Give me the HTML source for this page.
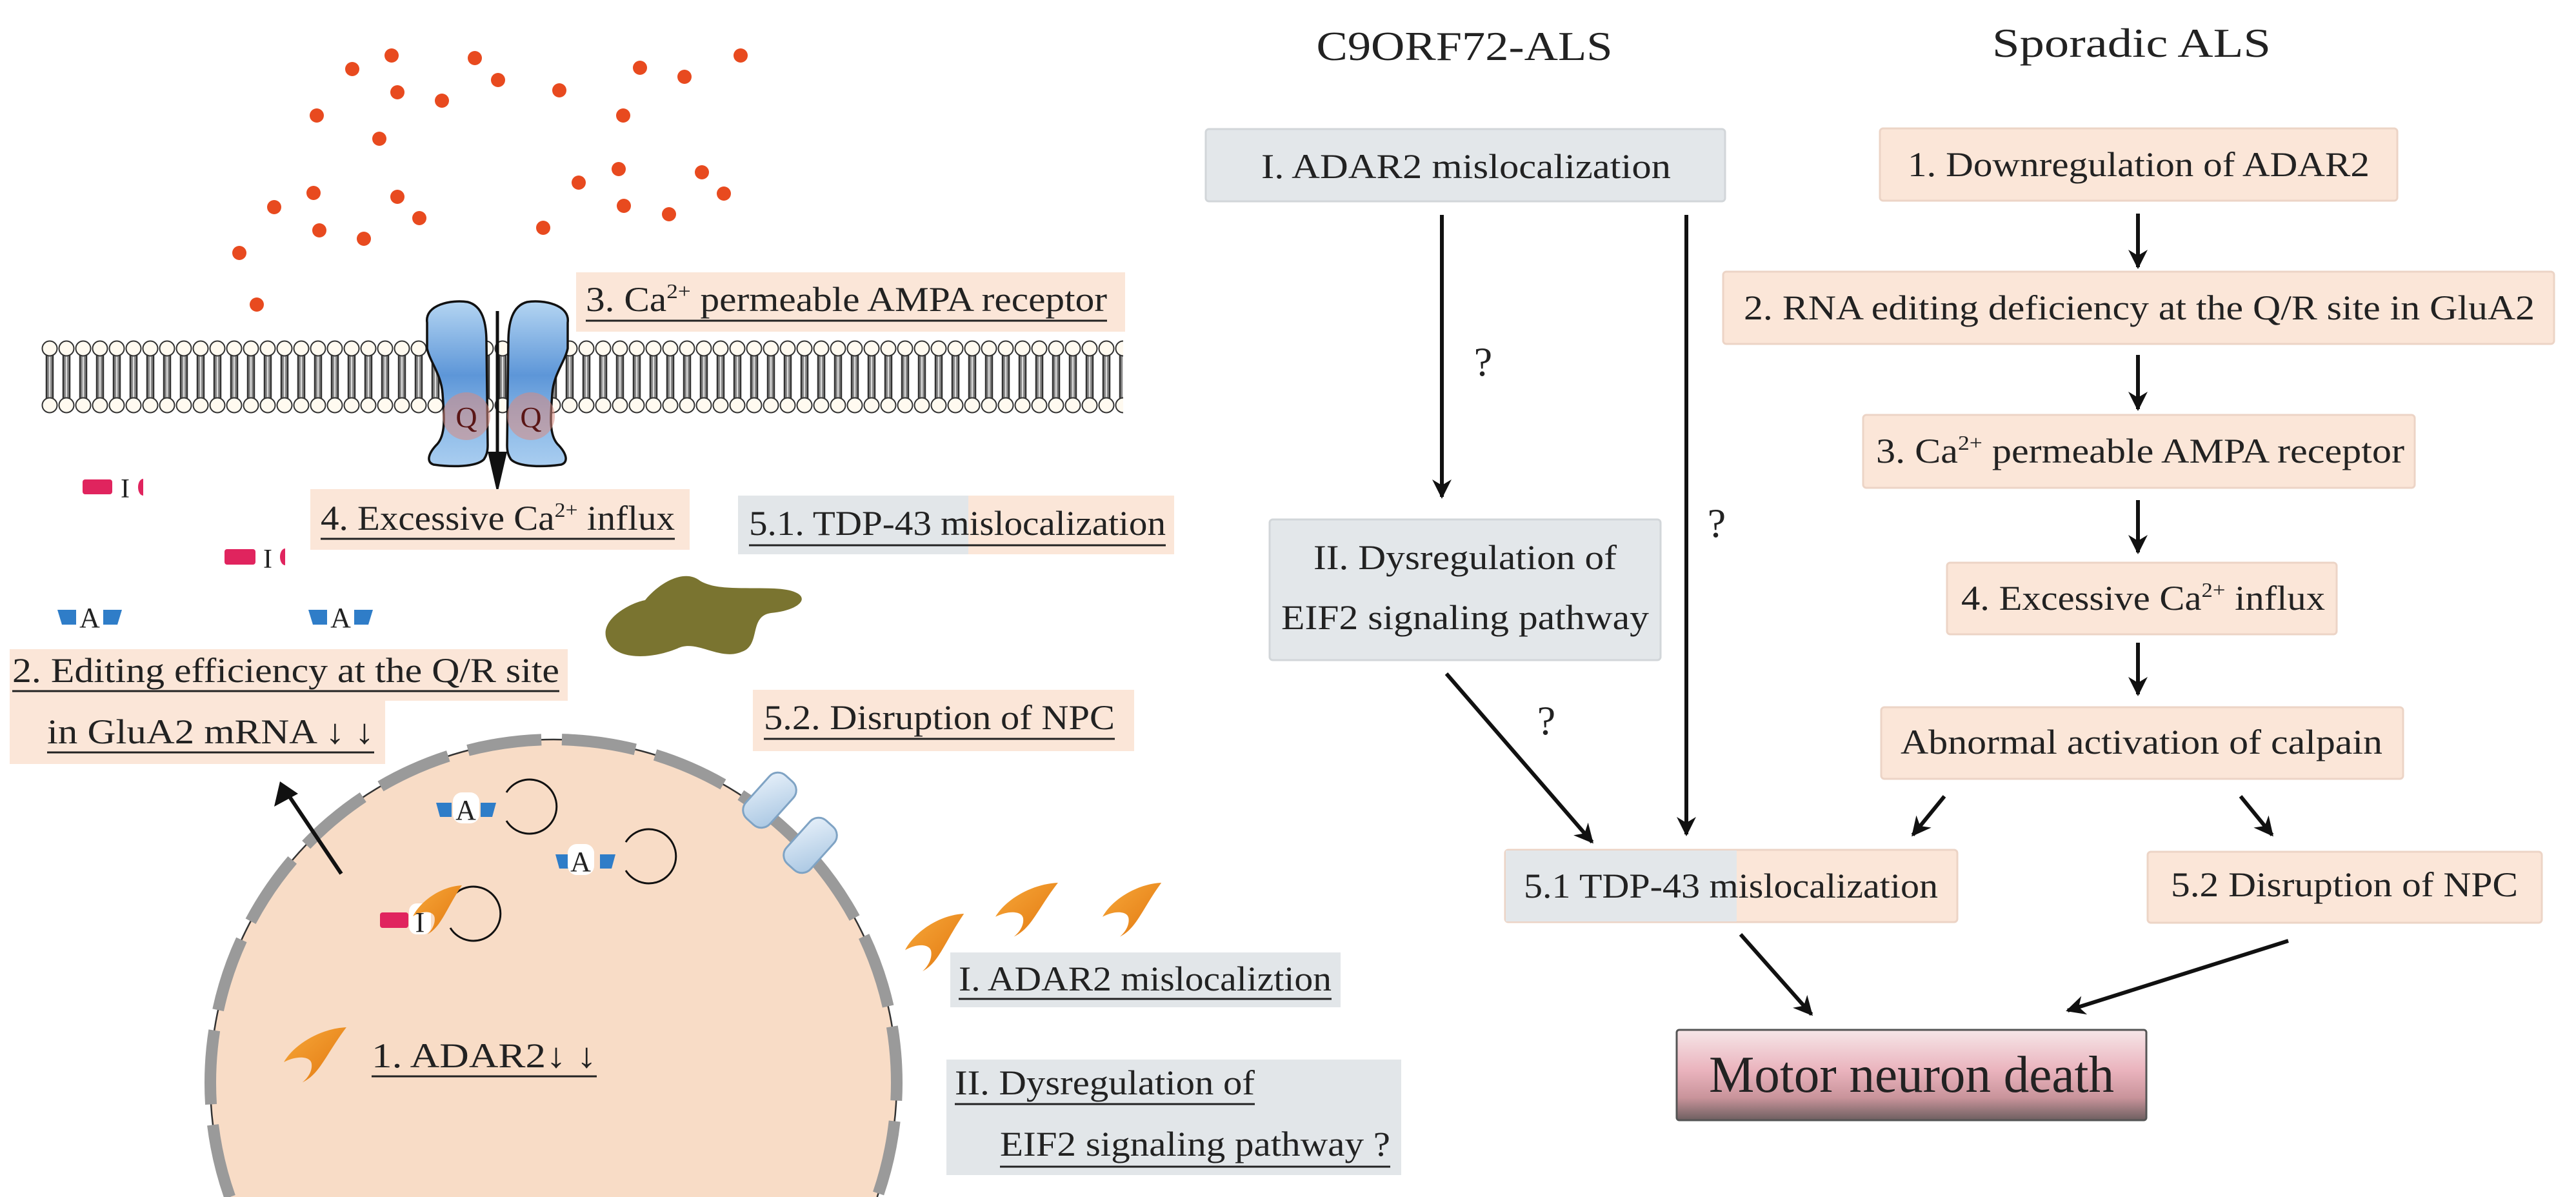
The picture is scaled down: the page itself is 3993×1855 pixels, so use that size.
<!DOCTYPE html>
<html><head><meta charset="utf-8"><style>
html,body{margin:0;padding:0;background:#fff;width:3993px;height:1855px;overflow:hidden;}
svg{display:block;overflow:hidden;}
text{font-family:"Liberation Serif",serif;fill:#222;}
</style></head><body>
<svg width="3993" height="1855" viewBox="0 0 3993 1855" xmlns="http://www.w3.org/2000/svg">
<defs>
<pattern id="mem" x="64" y="527" width="26" height="114" patternUnits="userSpaceOnUse">
  <rect x="7" y="22" width="12" height="70" fill="#8a8a8a"/>
  <line x1="8" y1="22" x2="8" y2="92" stroke="#333" stroke-width="2.5"/>
  <line x1="18" y1="22" x2="18" y2="92" stroke="#333" stroke-width="2.5"/>
  <line x1="13" y1="22" x2="13" y2="92" stroke="#ddd" stroke-width="2"/>
  <circle cx="13" cy="13" r="11.5" fill="#fffaf0" stroke="#333" stroke-width="2"/>
  <circle cx="13" cy="101" r="11.5" fill="#fffaf0" stroke="#333" stroke-width="2"/>
</pattern>
<linearGradient id="rec" x1="0" y1="0" x2="0" y2="1">
  <stop offset="0" stop-color="#b4d5f2"/><stop offset="0.45" stop-color="#5d96d8"/><stop offset="0.75" stop-color="#8dbbe8"/><stop offset="1" stop-color="#a9cdf0"/>
</linearGradient>
<linearGradient id="death" x1="0" y1="0" x2="0" y2="1">
  <stop offset="0" stop-color="#f6e6e8"/><stop offset="0.45" stop-color="#eab3bd"/><stop offset="0.75" stop-color="#c9949b"/><stop offset="1" stop-color="#6e5f60"/>
</linearGradient>
<linearGradient id="npc" x1="0" y1="0" x2="1" y2="1">
  <stop offset="0" stop-color="#e8f1fa"/><stop offset="1" stop-color="#a8c6e2"/>
</linearGradient>
<linearGradient id="orng" x1="0" y1="0" x2="1" y2="1">
  <stop offset="0" stop-color="#f7a83a"/><stop offset="1" stop-color="#e27810"/>
</linearGradient>
<marker id="ah" viewBox="0 0 10 10" refX="9" refY="5" markerWidth="5" markerHeight="5" orient="auto" markerUnits="strokeWidth">
  <path d="M0,0 L10,5 L0,10 L3,5 Z" fill="#111"/>
</marker>
<path id="cres" d="M95,0 C55,2 15,30 0,60 C20,48 40,50 42,62 C44,75 36,88 28,95 C55,80 62,50 95,0 Z"/>
</defs>

<g fill="#e84a1f">
<circle cx="546" cy="107" r="11"/><circle cx="607" cy="86" r="11"/><circle cx="736" cy="90" r="11"/>
<circle cx="772" cy="124" r="11"/><circle cx="616" cy="143" r="11"/><circle cx="685" cy="156" r="11"/>
<circle cx="491" cy="179" r="11"/><circle cx="588" cy="215" r="11"/><circle cx="867" cy="140" r="11"/>
<circle cx="966" cy="179" r="11"/><circle cx="992" cy="105" r="11"/><circle cx="1061" cy="119" r="11"/>
<circle cx="1148" cy="86" r="11"/><circle cx="959" cy="262" r="11"/><circle cx="897" cy="283" r="11"/>
<circle cx="1088" cy="267" r="11"/><circle cx="1122" cy="300" r="11"/><circle cx="486" cy="299" r="11"/>
<circle cx="425" cy="321" r="11"/><circle cx="616" cy="305" r="11"/><circle cx="650" cy="338" r="11"/>
<circle cx="495" cy="357" r="11"/><circle cx="564" cy="370" r="11"/><circle cx="371" cy="392" r="11"/>
<circle cx="842" cy="353" r="11"/><circle cx="967" cy="319" r="11"/><circle cx="1037" cy="332" r="11"/>
<circle cx="398" cy="472" r="11"/>
</g>

<rect x="64" y="527" width="1677" height="114" fill="url(#mem)"/>

<rect x="893" y="422" width="851" height="92" fill="#fbe6d8"/>
<text x="908" y="482" font-size="54" textLength="808" lengthAdjust="spacingAndGlyphs">3. Ca<tspan font-size="32" dy="-20">2+</tspan><tspan dy="20"> permeable AMPA receptor</tspan></text>
<line x1="908" y1="497" x2="1716" y2="497" stroke="#222" stroke-width="3"/>

<g stroke="#111" stroke-width="3.5" fill="url(#rec)">
<path d="M662,500 C658,472 700,464 725,468 C748,474 754,500 754,530 L756,690 C756,700 754,706 750,712 C738,724 700,724 672,720 C660,716 664,702 678,688 C692,672 688,640 686,610 C684,580 666,560 662,540 Z"/>
<path d="M880,500 C884,472 842,464 817,468 C794,474 788,500 788,530 L786,690 C786,700 788,706 792,712 C804,724 842,724 870,720 C882,716 878,702 864,688 C850,672 854,640 856,610 C858,580 876,560 880,540 Z"/>
</g>
<circle cx="723" cy="645" r="37" fill="#d88a80" fill-opacity="0.55"/>
<circle cx="823" cy="645" r="37" fill="#d88a80" fill-opacity="0.55"/>
<text x="723" y="662" font-size="46" text-anchor="middle" style="fill:#5a1616">Q</text>
<text x="823" y="662" font-size="46" text-anchor="middle" style="fill:#5a1616">Q</text>
<line x1="771" y1="482" x2="771" y2="710" stroke="#111" stroke-width="5"/>
<polygon points="756,700 786,700 771,765" fill="#111"/>

<rect x="481" y="758" width="588" height="94" fill="#fbe6d8"/>
<text x="497" y="821" font-size="54" textLength="549" lengthAdjust="spacingAndGlyphs">4. Excessive Ca<tspan font-size="32" dy="-20">2+</tspan><tspan dy="20"> influx</tspan></text>
<line x1="497" y1="835" x2="1046" y2="835" stroke="#222" stroke-width="3"/>

<rect x="1144" y="768" width="676" height="91" fill="#fbe6d8"/>
<rect x="1144" y="768" width="357" height="91" fill="#e2e6e9"/>
<text x="1161" y="829" font-size="54" textLength="646" lengthAdjust="spacingAndGlyphs">5.1. TDP-43 mislocalization</text>
<line x1="1161" y1="845" x2="1807" y2="845" stroke="#222" stroke-width="3"/>

<rect x="128" y="743" width="46" height="23" rx="4" fill="#e0245e"/>
<text x="194" y="771" font-size="42" text-anchor="middle">I</text>
<path d="M222,742 A8,13 0 0 0 222,768 Z" fill="#e0245e"/>
<rect x="348" y="851" width="48" height="24" rx="4" fill="#e0245e"/>
<text x="415" y="880" font-size="42" text-anchor="middle">I</text>
<path d="M442,850 A8,13 0 0 0 442,876 Z" fill="#e0245e"/>

<g fill="#2f7dc8">
<polygon points="89,945 118,945 118,968 96,968"/><polygon points="160,945 189,945 182,968 160,968"/>
<polygon points="478,945 507,945 507,968 485,968"/><polygon points="549,945 578,945 571,968 549,968"/>
</g>
<text x="139" y="972" font-size="44" text-anchor="middle">A</text>
<text x="528" y="972" font-size="44" text-anchor="middle">A</text>

<path d="M940,990 C930,960 975,935 1000,930 C1020,905 1060,880 1085,900 C1110,915 1150,910 1200,912 C1265,915 1250,945 1195,950 C1160,955 1180,1000 1150,1010 C1115,1025 1080,990 1050,1005 C1000,1025 950,1020 940,990 Z" fill="#7a7430"/>

<rect x="15" y="1006" width="865" height="80" fill="#fbe6d8"/>
<rect x="15" y="1086" width="582" height="98" fill="#fbe6d8"/>
<text x="19" y="1057" font-size="54" textLength="848" lengthAdjust="spacingAndGlyphs">2. Editing efficiency at the Q/R site</text>
<line x1="19" y1="1071" x2="867" y2="1071" stroke="#222" stroke-width="3"/>
<text x="73" y="1152" font-size="54" textLength="507" lengthAdjust="spacingAndGlyphs">in GluA2 mRNA ↓ ↓</text>
<line x1="73" y1="1166" x2="580" y2="1166" stroke="#222" stroke-width="3"/>

<rect x="1167" y="1069" width="591" height="95" fill="#fbe6d8"/>
<text x="1184" y="1130" font-size="54" textLength="544" lengthAdjust="spacingAndGlyphs">5.2. Disruption of NPC</text>
<line x1="1184" y1="1145" x2="1728" y2="1145" stroke="#222" stroke-width="3"/>

<path d="M356.3,1855 A532,532 0 1 1 1359.7,1855 Z" fill="#f8dcc6"/>
<path d="M356.3,1855 A532,532 0 1 1 1359.7,1855" fill="none" stroke="#333" stroke-width="2.5"/>
<path d="M356.3,1855 A532,532 0 1 1 1359.7,1855" fill="none" stroke="#9a9a9a" stroke-width="18" stroke-dasharray="115 32" stroke-linecap="butt"/>

<g stroke="#7fa3c4" stroke-width="3" fill="url(#npc)">
<rect x="1168" y="1195" width="50" height="90" rx="18" transform="rotate(42 1193 1240)"/>
<rect x="1231" y="1265" width="50" height="90" rx="18" transform="rotate(42 1256 1310)"/>
</g>

<path d="M529,1354 L443,1226" stroke="#111" stroke-width="6"/>
<polygon points="434,1211 425,1250 462,1230" fill="#111"/>

<g fill="#2f7dc8">
<polygon points="676,1244 700,1244 700,1266 682,1266"/><polygon points="745,1244 769,1244 763,1266 745,1266"/>
<polygon points="861,1324 885,1324 885,1346 867,1346"/><polygon points="930,1324 954,1324 948,1346 930,1346"/>
</g>
<rect x="702" y="1228" width="41" height="48" rx="14" fill="#fff"/>
<rect x="880" y="1308" width="41" height="48" rx="14" fill="#fff"/>
<text x="722" y="1270" font-size="44" text-anchor="middle">A</text>
<text x="900" y="1350" font-size="44" text-anchor="middle">A</text>
<g fill="none" stroke="#111" stroke-width="3">
<path d="M785,1228 A42,42 0 1 1 785,1272"/>
<path d="M970,1305 A42,42 0 1 1 970,1349"/>
<path d="M698,1394 A42,42 0 1 1 698,1438"/>
</g>
<rect x="589" y="1414" width="44" height="24" rx="4" fill="#e0245e"/>
<rect x="634" y="1400" width="34" height="48" rx="12" fill="#fff"/>
<use href="#cres" transform="translate(640,1372) scale(0.8)" fill="url(#orng)"/>
<text x="651" y="1444" font-size="44" text-anchor="middle">I</text>

<use href="#cres" transform="translate(440,1592) scale(1.02 0.9)" fill="url(#orng)"/>
<text x="576" y="1654" font-size="54" textLength="349" lengthAdjust="spacingAndGlyphs">1. ADAR2↓ ↓</text>
<line x1="576" y1="1668" x2="925" y2="1668" stroke="#222" stroke-width="3"/>

<use href="#cres" transform="translate(1403,1416) scale(0.96 0.94)" fill="url(#orng)"/>
<use href="#cres" transform="translate(1543,1368) scale(1.02 0.88)" fill="url(#orng)"/>
<use href="#cres" transform="translate(1709,1368) scale(0.96 0.88)" fill="url(#orng)"/>

<rect x="1473" y="1476" width="605" height="85" fill="#e2e6e9"/>
<text x="1486" y="1535" font-size="54" textLength="578" lengthAdjust="spacingAndGlyphs">I. ADAR2 mislocaliztion</text>
<line x1="1486" y1="1548" x2="2064" y2="1548" stroke="#222" stroke-width="3"/>

<rect x="1467" y="1642" width="705" height="179" fill="#e2e6e9"/>
<text x="1480" y="1696" font-size="54" textLength="465" lengthAdjust="spacingAndGlyphs">II. Dysregulation of</text>
<line x1="1480" y1="1711" x2="1945" y2="1711" stroke="#222" stroke-width="3"/>
<text x="1550" y="1791" font-size="54" textLength="605" lengthAdjust="spacingAndGlyphs">EIF2 signaling pathway ?</text>
<line x1="1550" y1="1808" x2="2155" y2="1808" stroke="#222" stroke-width="3"/>

<text x="2270" y="93" font-size="64" text-anchor="middle" textLength="459" lengthAdjust="spacingAndGlyphs">C9ORF72-ALS</text>
<text x="3304" y="88" font-size="64" text-anchor="middle" textLength="432" lengthAdjust="spacingAndGlyphs">Sporadic ALS</text>

<g stroke-width="3">
<rect x="1869" y="200" width="805" height="112" rx="5" fill="#e3e7ea" stroke="#d2d6d9"/>
<rect x="2914" y="199" width="802" height="112" rx="5" fill="#fbe6d8" stroke="#ecd4c6"/>
<rect x="2671" y="421" width="1288" height="112" rx="5" fill="#fbe6d8" stroke="#ecd4c6"/>
<rect x="2888" y="643" width="855" height="113" rx="5" fill="#fbe6d8" stroke="#ecd4c6"/>
<rect x="3018" y="872" width="604" height="111" rx="5" fill="#fbe6d8" stroke="#ecd4c6"/>
<rect x="2916" y="1096" width="809" height="111" rx="5" fill="#fbe6d8" stroke="#ecd4c6"/>
<rect x="1968" y="805" width="606" height="218" rx="5" fill="#e3e7ea" stroke="#d2d6d9"/>
<rect x="3329" y="1320" width="611" height="110" rx="5" fill="#fbe6d8" stroke="#ecd4c6"/>
</g>
<rect x="2333" y="1317" width="701" height="112" rx="5" fill="#fbe6d8" stroke="#ecd4c6" stroke-width="3"/>
<rect x="2334" y="1318" width="358" height="110" fill="#e3e7ea"/>
<rect x="2599" y="1596" width="728" height="140" rx="4" fill="url(#death)" stroke="#555" stroke-width="3"/>

<g font-size="54">
<text x="1955" y="276" textLength="635" lengthAdjust="spacingAndGlyphs">I. ADAR2 mislocalization</text>
<text x="2957" y="273" textLength="716" lengthAdjust="spacingAndGlyphs">1. Downregulation of ADAR2</text>
<text x="2703" y="495" textLength="1226" lengthAdjust="spacingAndGlyphs">2. RNA editing deficiency at the Q/R site in GluA2</text>
<text x="2908" y="717" textLength="819" lengthAdjust="spacingAndGlyphs">3. Ca<tspan font-size="32" dy="-20">2+</tspan><tspan dy="20"> permeable AMPA receptor</tspan></text>
<text x="3040" y="945" textLength="564" lengthAdjust="spacingAndGlyphs">4. Excessive Ca<tspan font-size="32" dy="-20">2+</tspan><tspan dy="20"> influx</tspan></text>
<text x="2946" y="1168" textLength="747" lengthAdjust="spacingAndGlyphs">Abnormal activation of calpain</text>
<text x="2271" y="882" text-anchor="middle" textLength="470" lengthAdjust="spacingAndGlyphs">II. Dysregulation of</text>
<text x="2271" y="975" text-anchor="middle" textLength="570" lengthAdjust="spacingAndGlyphs">EIF2 signaling pathway</text>
<text x="2362" y="1391" textLength="642" lengthAdjust="spacingAndGlyphs">5.1 TDP-43 mislocalization</text>
<text x="3365" y="1389" textLength="538" lengthAdjust="spacingAndGlyphs">5.2 Disruption of NPC</text>
<text x="2299" y="582" font-size="64" text-anchor="middle">?</text>
<text x="2661" y="832" font-size="64" text-anchor="middle">?</text>
<text x="2397" y="1138" font-size="64" text-anchor="middle">?</text>
</g>
<text x="2963" y="1692" font-size="80" text-anchor="middle" textLength="628" lengthAdjust="spacingAndGlyphs">Motor neuron death</text>

<g stroke="#111" stroke-width="6" fill="none" marker-end="url(#ah)">
<line x1="2235" y1="333" x2="2235" y2="770"/>
<line x1="2614" y1="333" x2="2614" y2="1293"/>
<line x1="2242" y1="1044" x2="2468" y2="1305"/>
<line x1="3314" y1="331" x2="3314" y2="414"/>
<line x1="3314" y1="550" x2="3314" y2="634"/>
<line x1="3314" y1="775" x2="3314" y2="856"/>
<line x1="3314" y1="996" x2="3314" y2="1076"/>
<line x1="3014" y1="1234" x2="2965" y2="1294"/>
<line x1="3473" y1="1234" x2="3522" y2="1294"/>
<line x1="2698" y1="1448" x2="2808" y2="1572"/>
<line x1="3547" y1="1458" x2="3205" y2="1566"/>
</g>
</svg>
</body></html>
